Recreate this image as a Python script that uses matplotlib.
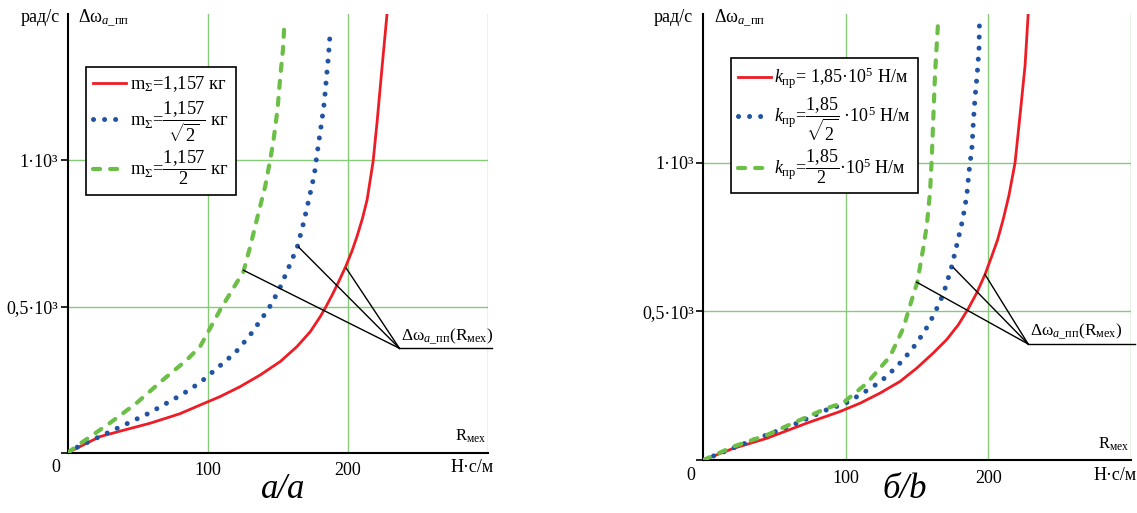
import matplotlib.pyplot as plt
from matplotlib.lines import Line2D

plt.rcParams['font.family'] = ['Liberation Serif', 'DejaVu Serif']
plt.rcParams['mathtext.fontset'] = 'custom'
plt.rcParams['mathtext.rm'] = 'Liberation Serif'
plt.rcParams['mathtext.it'] = 'Liberation Serif:italic'
plt.rcParams['mathtext.bf'] = 'Liberation Serif:bold'

# ==============================
# 1. DATA
# ==============================

# panel a : m_sum varies
a_red_x = [0, 23, 40, 59, 80, 94.6, 108.9, 123.2, 137.6, 151.9, 163.8, 173.3, 180.5,
           184, 188.8, 193.6, 198.9, 203.1, 206.7, 210.5, 213.9, 218.2, 221, 224.6, 228.2]
a_red_y = [0, 55, 77, 101, 133, 163, 192, 226, 266, 312, 363, 414, 466,
           495, 538, 585, 640, 690, 740, 800, 865, 997, 1130, 1320, 1505]

a_blue_x = [0, 6, 33, 58, 82, 94.6, 107, 119.7, 130, 143.5, 151, 158, 164, 168.5, 172.4,
            176.2, 178.5, 181, 183.3, 184.8, 186.4, 187.6]
a_blue_y = [0, 17, 78, 135, 200, 240, 290, 342, 400, 492, 557, 635, 703, 786, 869,
            951, 1034, 1116, 1197, 1280, 1362, 1445]

a_green_x = [0, 11, 30, 49, 68, 85, 94.6, 109, 125.6, 130.4, 136.3, 141.1, 144.7, 147.1,
             149.9, 151.9, 153.8, 154.7]
a_green_y = [0, 38, 101, 169, 249, 317, 363, 489, 620, 705, 820, 911, 1002, 1071,
             1174, 1288, 1379, 1459]

# panel b : k_pr varies
b_red_x = [0, 21, 44.5, 72.6, 95.9, 110, 124, 138, 149.8, 161.4, 170.8, 179, 185.6,
           191.9, 197.7, 202.4, 206.5, 210.5, 214.5, 218.8, 222.3, 225.8, 228.1]
b_red_y = [0, 39, 73, 124, 163, 191, 225, 264, 309, 360, 405, 455, 506,
           562, 624, 685, 740, 810, 890, 1000, 1160, 1326, 1507]

b_blue_x = [0, 35, 63, 86.6, 99.5, 112, 124.5, 136, 146.3, 155, 162, 168.5,
            173.9, 177.9, 182, 184.9, 186.5, 188.6, 189.5, 190.7, 192.3, 193.5, 193.8]
b_blue_y = [0, 67, 118, 169, 190, 225, 264, 315, 371, 430, 490, 559,
            643, 723, 808, 889, 971, 1055, 1136, 1219, 1303, 1384, 1468]

b_green_x = [0, 21, 44.5, 68, 86.6, 98.3, 114.7, 131, 140.4, 146.3, 150.2, 154.4,
             156.8, 159.1, 160.3, 161.4, 162.6, 163.8, 165]
b_green_y = [0, 45, 84, 135, 174, 193, 258, 348, 444, 539, 598, 714,
             787, 900, 1012, 1147, 1294, 1395, 1490]

x_ticks = [100, 200]
x_tick_labels = ['100', '200']
y_ticks = [0, 500, 1000]
y_tick_labels = ['', '0,5·10³', '1·10³']

a_labels = [r'm$_\Sigma$=1,157 кг',
            r'm$_\Sigma$=$\dfrac{1{,}157}{\sqrt{2}}$ кг',
            r'm$_\Sigma$=$\dfrac{1{,}157}{2}$ кг']
b_labels = [r'$k_{\mathrm{пр}}$= 1,85·10$^5$ Н/м',
            r'$k_{\mathrm{пр}}$=$\dfrac{1{,}85}{\sqrt{2}}$ ·10$^5$ Н/м',
            r'$k_{\mathrm{пр}}$=$\dfrac{1{,}85}{2}$·10$^5$ Н/м']

# annotation: (x,y) of meeting point, ends on the curves
a_note = (237, 357)
a_ends = [(125.6, 624), (165, 703), (199, 631)]
b_note = (228, 390)
b_ends = [(149.8, 598), (175.5, 647), (197.7, 624)]

# ==============================
# 2. STYLE
# ==============================
RED = '#ee1d25'
BLUE = '#2154a3'
GREEN = '#6bbf47'
GRID = '#86cc78'
DOTS = (0, (0.01, 2.2))
DASH = (0, (1.7, 2.4))

fig = plt.figure(figsize=(11.37, 5.13), dpi=100)
ax1 = fig.add_axes([0.0595, 0.1175, 0.3694, 0.855])
ax2 = fig.add_axes([0.6186, 0.1033, 0.3759, 0.8694])


def draw_panel(ax, red, blue, green, labels, note, ends, leg_anchor, leg_size):
    ax.set_xlim(0, 300)
    ax.set_ylim(0, 1500)
    for gx in [100, 200, 300]:
        ax.axvline(gx, color=GRID, lw=1, zorder=1)
    for gy in [500, 1000]:
        ax.axhline(gy, color=GRID, lw=1, zorder=1)

    ax.plot(red[0], red[1], color=RED, lw=2, zorder=3)
    ax.plot(blue[0], blue[1], color=BLUE, lw=3.6, linestyle=DOTS,
            dash_capstyle='round', zorder=3)
    ax.plot(green[0], green[1], color=GREEN, lw=3, linestyle=DASH,
            dash_capstyle='round', zorder=3)

    # annotation lines
    for ex, ey in ends:
        ax.plot([note[0], ex], [note[1], ey], color='black', lw=1, zorder=4)
    ax.plot([note[0], 303], [note[1], note[1]], color='black', lw=1,
            clip_on=False, zorder=4)
    ax.text(note[0] + 1, note[1] + 6, r'Δω$_{a\_\mathrm{пп}}$(R$_{\mathrm{мех}}$)',
            fontsize=12.5, ha='left', va='bottom')

    ax.spines['top'].set_visible(False)
    ax.spines['right'].set_visible(False)
    ax.spines['left'].set_linewidth(1.5)
    ax.spines['bottom'].set_linewidth(1.5)

    ax.set_xticks(x_ticks)
    ax.set_xticklabels(x_tick_labels, fontsize=13)
    ax.tick_params(axis='x', length=0, pad=7)
    ax.set_yticks(y_ticks)
    ax.set_yticklabels(y_tick_labels, fontsize=13)
    ax.tick_params(axis='y', length=5, width=1.2, pad=2)

    ax.text(-8.5, -22, '0', fontsize=13, ha='center', va='top', clip_on=False)
    ax.text(304, -22, 'Н·с/м', fontsize=13, ha='right', va='top', clip_on=False)
    ax.text(299, 25, r'R$_{\mathrm{мех}}$', fontsize=12, ha='right', va='bottom')

    handles = [Line2D([], [], color=RED, lw=2),
               Line2D([], [], color=BLUE, lw=3.6, linestyle=DOTS, dash_capstyle='round'),
               Line2D([], [], color=GREEN, lw=3, linestyle=DASH, dash_capstyle='round')]
    leg = ax.legend(handles, labels, loc='upper left', bbox_to_anchor=leg_anchor,
                    borderaxespad=0, fontsize=leg_size, frameon=True, fancybox=False,
                    edgecolor='black', framealpha=1, handlelength=1.8,
                    labelspacing=0.25, borderpad=0.4, handletextpad=0.2)
    leg.get_frame().set_linewidth(1.2)


draw_panel(ax1, (a_red_x, a_red_y), (a_blue_x, a_blue_y), (a_green_x, a_green_y),
           a_labels, a_note, a_ends, (0.043, 0.879), 13.3)
draw_panel(ax2, (b_red_x, b_red_y), (b_blue_x, b_blue_y), (b_green_x, b_green_y),
           b_labels, b_note, b_ends, (0.065, 0.901), 13)

# axis captions at top
W, H = 1137, 513
fig.text(60 / W, 1 - 18 / H, 'рад/с', fontsize=13, ha='right', va='center')
fig.text(78 / W, 1 - 18 / H, r'Δω$_{a\_\mathrm{пп}}$', fontsize=13, ha='left', va='center')
fig.text(693 / W, 1 - 18 / H, 'рад/с', fontsize=13, ha='right', va='center')
fig.text(714 / W, 1 - 18 / H, r'Δω$_{a\_\mathrm{пп}}$', fontsize=13, ha='left', va='center')

fig.text(283 / W, 1 - 490 / H, 'а/a', fontsize=25, style='italic', ha='center', va='center')
fig.text(905 / W, 1 - 490 / H, 'б/b', fontsize=25, style='italic', ha='center', va='center')

plt.savefig('out.png', dpi=100)
